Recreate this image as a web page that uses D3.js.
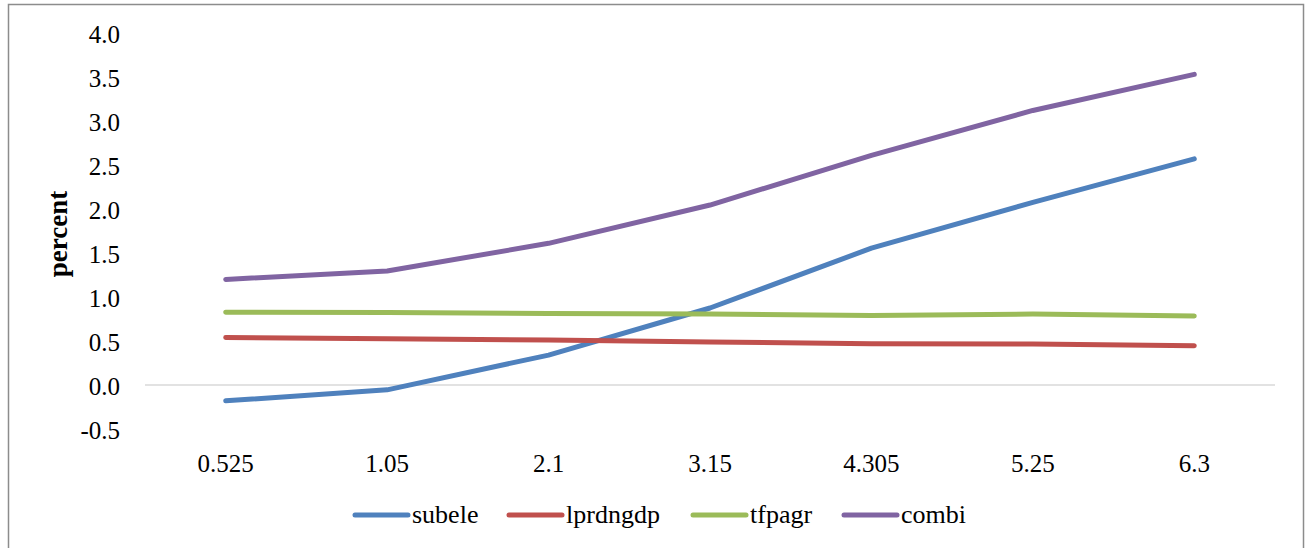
<!DOCTYPE html>
<html>
<head>
<meta charset="utf-8">
<script src="https://cdn.jsdelivr.net/npm/d3@7"></script>
<style>
  html, body { margin: 0; padding: 0; background: #fff; }
  svg { display: block; }
  text { font-family: "Liberation Serif", "Times New Roman", serif; fill: #000; }
</style>
</head>
<body>
<svg id="chart" width="1309" height="548"></svg>
<script>
// Categories on the x axis
const categories = ["0.525", "1.05", "2.1", "3.15", "4.305", "5.25", "6.3"];

// Series values (percent)
const subele   = [-0.18, -0.055, 0.34, 0.875, 1.555, 2.075, 2.57];
const lprdngdp = [0.54, 0.525, 0.51, 0.49, 0.47, 0.465, 0.447];
const tfpagr   = [0.826, 0.825, 0.812, 0.807, 0.79, 0.806, 0.784];
const combi    = [1.20, 1.295, 1.61, 2.045, 2.61, 3.12, 3.53];

const seriesNames  = ["subele", "lprdngdp", "tfpagr", "combi"];
const seriesValues = [subele, lprdngdp, tfpagr, combi];
const seriesColors = ["#4F81BD", "#C0504D", "#9BBB59", "#8064A2"];

// Y axis ticks
const yTicks = [-0.5, 0.0, 0.5, 1.0, 1.5, 2.0, 2.5, 3.0, 3.5, 4.0];

const svg = d3.select("#chart");

// Outer chart frame
svg.append("rect")
  .attr("x", 8.5).attr("y", 4.5)
  .attr("width", 1295).attr("height", 560)
  .attr("fill", "none")
  .attr("stroke", "#8c8c8c")
  .attr("stroke-width", 1.5);

const plot = { left: 145, right: 1275, top: 33, bottom: 429 };

const x = d3.scaleBand()
  .domain(categories)
  .range([plot.left, plot.right]);

const y = d3.scaleLinear()
  .domain([-0.5, 4.0])
  .range([plot.bottom, plot.top]);

// Zero baseline
svg.append("line")
  .attr("x1", plot.left).attr("x2", plot.right)
  .attr("y1", y(0)).attr("y2", y(0))
  .attr("stroke", "#d9d9d9")
  .attr("stroke-width", 1.5);

// Y axis labels (plain hyphen for negatives)
const fmt = d3.format(".1f");
const yAxis = d3.axisLeft(y)
  .tickValues(yTicks)
  .tickFormat(d => fmt(d).replace("\u2212", "-"))
  .tickSize(0)
  .tickPadding(0);

const yg = svg.append("g")
  .attr("transform", "translate(120,1)")
  .call(yAxis);
yg.select(".domain").remove();
yg.selectAll("text")
  .style("font-family", "'Liberation Serif', 'Times New Roman', serif")
  .style("font-size", "25px")
  .attr("fill", "#000");

// X axis labels
const xAxis = d3.axisBottom(x).tickSize(0).tickPadding(0);
const xg = svg.append("g")
  .attr("transform", "translate(0,454)")
  .call(xAxis);
xg.select(".domain").remove();
xg.selectAll("text")
  .style("font-family", "'Liberation Serif', 'Times New Roman', serif")
  .style("font-size", "25px")
  .attr("fill", "#000");

// Y axis title
svg.append("text")
  .attr("transform", "translate(67,234) rotate(-90)")
  .attr("text-anchor", "middle")
  .style("font-size", "27px")
  .style("font-weight", "bold")
  .text("percent");

// Series lines
const line = d3.line()
  .x((d, i) => x(categories[i]) + x.bandwidth() / 2)
  .y(d => y(d));

seriesValues.forEach((vals, k) => {
  svg.append("path")
    .datum(vals)
    .attr("d", line)
    .attr("fill", "none")
    .attr("stroke", seriesColors[k])
    .attr("stroke-width", 5)
    .attr("stroke-linecap", "round")
    .attr("stroke-linejoin", "round");
});

// Legend
const legendX = [355, 509, 693, 844];
const legendY = 515;
seriesNames.forEach((name, k) => {
  const g = svg.append("g").attr("transform", `translate(${legendX[k]},${legendY})`);
  g.append("line")
    .attr("x1", 0).attr("x2", 53)
    .attr("y1", 0).attr("y2", 0)
    .attr("stroke", seriesColors[k])
    .attr("stroke-width", 5)
    .attr("stroke-linecap", "round");
  g.append("text")
    .attr("x", 57).attr("y", 8)
    .style("font-size", "26px")
    .text(name);
});
</script>
</body>
</html>
